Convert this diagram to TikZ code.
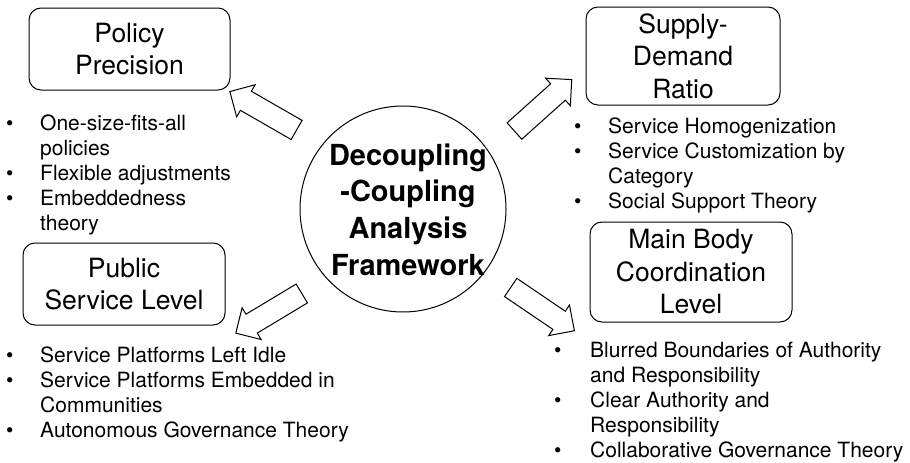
\documentclass[tikz,border=0pt]{standalone}
\usepackage{fontspec}
\setmainfont{TeX Gyre Heros}
\usetikzlibrary{shapes.arrows}
\newcommand\myblt[1][34pt]{\makebox[#1][l]{\textbullet}}
\newcommand\myind[1][34pt]{\hspace*{#1}}
\begin{document}
\begin{tikzpicture}[x=1pt,y=-1pt,
  box/.style={draw, rounded corners=12pt, line width=1pt, align=center, inner sep=0pt, font=\fontsize{26.5}{32.5}\selectfont},
  lst/.style={anchor=base west, align=left, inner sep=0pt, font=\fontsize{21}{24.8}\selectfont},
  barrow/.style={draw, line width=1pt, single arrow, single arrow head extend=7.5pt, single arrow tip angle=90, single arrow head indent=0pt, minimum height=77pt, inner xsep=0pt, inner ysep=10.5pt, fill=white}]
\useasboundingbox (0,0) rectangle (910,463);
% central circle
\node[draw, circle, line width=1pt, minimum size=206pt, inner sep=0pt] (c) at (403,209) {};
\node[font=\bfseries\fontsize{29}{36.7}\selectfont, align=center, inner sep=0pt] (ct) at (408,209.5) {Decoupling\\-Coupling\\Analysis\\Framework};
% boxes
\node[box, minimum width=201pt, minimum height=82pt] (pp) at (129.5,49) {Policy\\Precision};
\node[box, minimum width=194pt, minimum height=98pt] (sd) at (683,56) {Supply-\\Demand\\Ratio};
\node[box, minimum width=202pt, minimum height=82pt] (ps) at (124,284) {Public\\Service Level};
\node[box, minimum width=202pt, minimum height=100pt] (mb) at (691,272) {Main Body\\Coordination\\Level};
% block arrows
\node[barrow, rotate=150.1] (a1) at (268,113.5) {};
\node[barrow, rotate=41.9] (a2) at (539,109) {};
\node[barrow, rotate=211] (a3) at (273.5,310.5) {};
\node[barrow, rotate=-34.2] (a4) at (538,306) {};
% lists (anchor = baseline of last line)
\node[lst] (l1) at (6,230) {\myblt One-size-fits-all\\\myind policies\\\myblt Flexible adjustments\\\myblt Embeddedness\\\myind theory};
\node[lst] (l2) at (574,208) {\myblt Service Homogenization\\\myblt Service Customization by\\\myind Category\\\myblt Social Support Theory};
\node[lst] (l3) at (6,437) {\myblt Service Platforms Left Idle\\\myblt Service Platforms Embedded in\\\myind Communities\\\myblt Autonomous Governance Theory};
\node[lst] (l4) at (554,457) {\myblt[36pt]Blurred Boundaries of Authority\\\myind[36pt]and Responsibility\\\myblt[36pt]Clear Authority and\\\myind[36pt]Responsibility\\\myblt[36pt]Collaborative Governance Theory};
\end{tikzpicture}
\end{document}
